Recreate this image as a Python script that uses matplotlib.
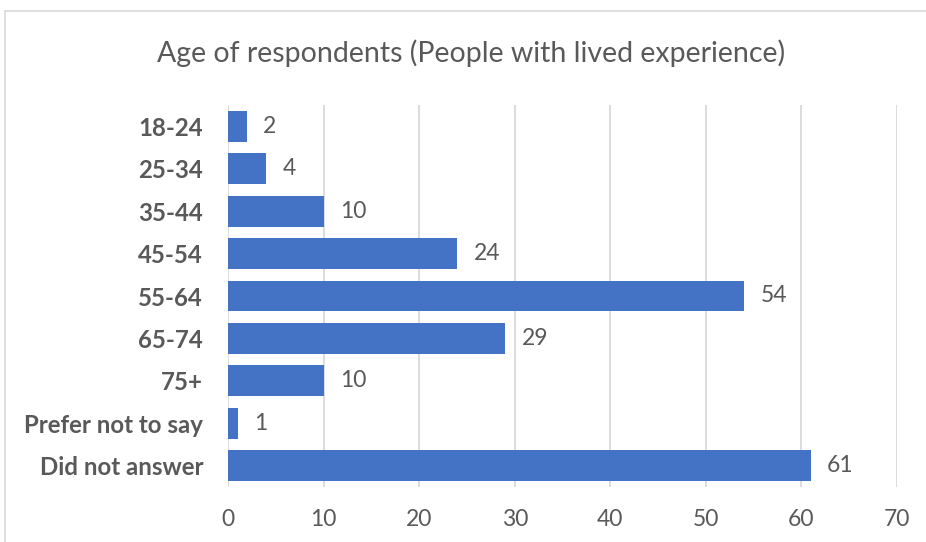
import matplotlib
matplotlib.use("Agg")
import matplotlib.pyplot as plt
from matplotlib.patches import Rectangle

categories = ["18-24", "25-34", "35-44", "45-54", "55-64", "65-74", "75+",
              "Prefer not to say", "Did not answer"]
counts = [2, 4, 10, 24, 54, 29, 10, 1, 61]
x_ticks = [0, 10, 20, 30, 40, 50, 60, 70]

plt.rcParams["font.family"] = ["Lato", "DejaVu Sans"]

fig = plt.figure(figsize=(9.26, 5.42), dpi=100)
fig.patch.set_facecolor("white")

# chart frame
fig.patches.append(Rectangle((5 / 926, -0.1), 1.2, 1 - 11 / 542 + 0.1,
                             transform=fig.transFigure, fill=False,
                             edgecolor="#D9D9D9", linewidth=1.2))

ax = fig.add_axes([228 / 926, 1 - 487 / 542, (897 - 228) / 926, (487 - 105) / 542])

y = list(range(len(categories)))
ax.barh(y, counts, height=0.73, color="#4472C4", zorder=3)
ax.set_ylim(len(categories) - 0.5, -0.5)
ax.set_xlim(0, 70)
ax.set_xticks(x_ticks)
ax.set_yticks(y)
ax.set_yticklabels(categories, fontsize=17.3, fontweight="bold", color="#595959")
ax.tick_params(axis="x", labelsize=16.5, labelcolor="#595959", length=0, pad=16)
ax.tick_params(axis="y", length=0, pad=18)
ax.grid(axis="x", color="#D9D9D9", linewidth=1.3, zorder=0)
for s in ax.spines.values():
    s.set_visible(False)

for yi, v in zip(y, counts):
    ax.text(v + 1.7, yi, str(v), va="center", ha="left", fontsize=16.5, color="#595959")

fig.text(471 / 926, 1 - 53 / 542, "Age of respondents (People with lived experience)",
         ha="center", va="center", fontsize=20.5, color="#595959")

fig.savefig("out.png", dpi=100)
